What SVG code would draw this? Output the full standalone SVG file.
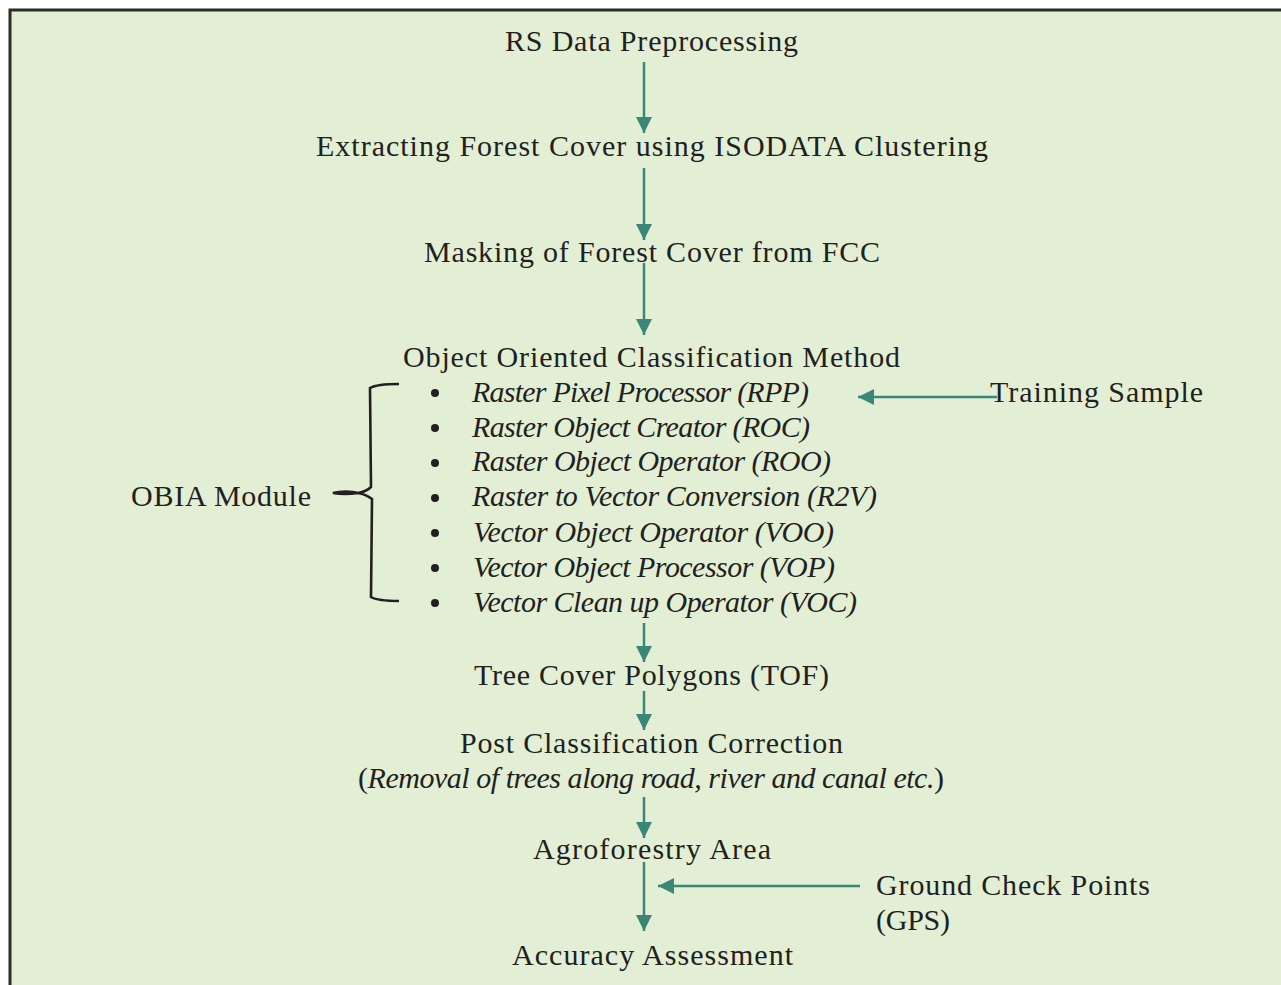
<svg xmlns="http://www.w3.org/2000/svg" width="1281" height="985" viewBox="0 0 1281 985">
<defs>
<style>
.t{font-family:"Liberation Serif","Times New Roman",serif;font-size:30px;fill:#231f20}
.i{font-style:italic}
.c{stroke:#3a8677;stroke-width:2.5;fill:none}
.b{fill:#231f20}
</style>
<marker id="ah" markerUnits="userSpaceOnUse" markerWidth="16" markerHeight="16" viewBox="0 0 16 16" refX="16" refY="8" orient="auto">
<path d="M0,0 L16,8 L0,16 Z" fill="#3a8677"/>
</marker>
</defs>
<rect x="0" y="0" width="1281" height="985" fill="#ffffff"/>
<rect x="10" y="10" width="1271" height="975" fill="#e2efd5"/>
<path d="M10,985 L10,10 L1281,10" fill="none" stroke="#2b2b2b" stroke-width="3"/>

<g id="connectors">
<line class="c" x1="644" y1="62" x2="644" y2="133" marker-end="url(#ah)"/>
<line class="c" x1="644" y1="168" x2="644" y2="240" marker-end="url(#ah)"/>
<line class="c" x1="644" y1="263" x2="644" y2="335" marker-end="url(#ah)"/>
<line class="c" x1="997" y1="397" x2="858" y2="397" marker-end="url(#ah)"/>
<line class="c" x1="644" y1="623" x2="644" y2="662" marker-end="url(#ah)"/>
<line class="c" x1="644" y1="691" x2="644" y2="730" marker-end="url(#ah)"/>
<line class="c" x1="644" y1="797" x2="644" y2="838" marker-end="url(#ah)"/>
<line class="c" x1="644" y1="862" x2="644" y2="931" marker-end="url(#ah)"/>
<line class="c" x1="860" y1="886" x2="658" y2="886" marker-end="url(#ah)"/>
</g>

<g id="rs"><text class="t" x="505" y="51" textLength="293">RS Data Preprocessing</text></g>
<g id="extract"><text class="t" x="316" y="156" textLength="672">Extracting Forest Cover using ISODATA Clustering</text></g>
<g id="mask"><text class="t" x="424" y="262" textLength="456">Masking of Forest Cover from FCC</text></g>
<g id="ooc">
<text class="t" x="403" y="367" textLength="497">Object Oriented Classification Method</text>
<circle class="b" cx="435" cy="393" r="4"/>
<circle class="b" cx="435" cy="428" r="4"/>
<circle class="b" cx="435" cy="463" r="4"/>
<circle class="b" cx="435" cy="498" r="4"/>
<circle class="b" cx="435" cy="533" r="4"/>
<circle class="b" cx="435" cy="568" r="4"/>
<circle class="b" cx="435" cy="603" r="4"/>
<text class="t i" x="472" y="402" textLength="337">Raster Pixel Processor (RPP)</text>
<text class="t i" x="472" y="437" textLength="338">Raster Object Creator (ROC)</text>
<text class="t i" x="472" y="471" textLength="359">Raster Object Operator (ROO)</text>
<text class="t i" x="472" y="506" textLength="405">Raster to Vector Conversion (R2V)</text>
<text class="t i" x="473" y="542" textLength="361">Vector Object Operator (VOO)</text>
<text class="t i" x="473" y="577" textLength="362">Vector Object Processor (VOP)</text>
<text class="t i" x="473" y="612" textLength="384">Vector Clean up Operator (VOC)</text>
</g>
<g id="training"><text class="t" x="990" y="402" textLength="213">Training Sample</text></g>
<g id="obia">
<text class="t" x="131" y="506" textLength="180">OBIA Module</text>
<path d="M399,384 C385,384 375,385 370,388 L371,487 C368,490 364,492 358,493 C350,494 340,494 333,493 C340,491 352,491 358,493 C364,494 368,496 372,499 L371,597 C376,600 386,601 399,601" fill="none" stroke="#231f20" stroke-width="2.6"/>
</g>
<g id="tof"><text class="t" x="474" y="685" textLength="355">Tree Cover Polygons (TOF)</text></g>
<g id="pcc">
<text class="t" x="460" y="753" textLength="383">Post Classification Correction</text>
<text class="t" x="358" y="788" textLength="586">(<tspan class="i">Removal of trees along road, river and canal etc.</tspan>)</text>
</g>
<g id="agro"><text class="t" x="533" y="859" textLength="238">Agroforestry Area</text></g>
<g id="gcp">
<text class="t" x="876" y="895" textLength="274">Ground Check Points</text>
<text class="t" x="876" y="930" textLength="74">(GPS)</text>
</g>
<g id="acc"><text class="t" x="512" y="965" textLength="281">Accuracy Assessment</text></g>
</svg>
